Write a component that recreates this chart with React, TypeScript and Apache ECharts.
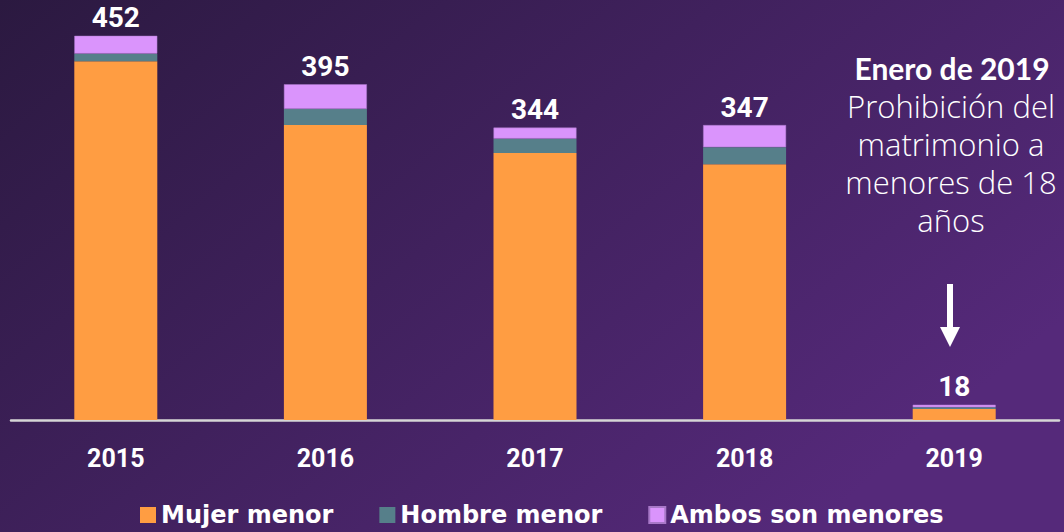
import React, { useEffect, useRef } from "react";
import * as echarts from "echarts";

const categories = ["2015", "2016", "2017", "2018", "2019"];
const mujerMenor = [422, 347, 314, 301, 13];
const hombreMenor = [9, 19, 17, 20, 2];
const ambosMenores = [21, 29, 13, 26, 3];
const totals = [452, 395, 344, 347, 18];
const annotationTitle = "Enero de 2019";
const annotationLines = ["Prohibición del", "matrimonio a", "menores de 18", "años"];

export default function App() {
  const ref = useRef<HTMLDivElement>(null);
  useEffect(() => {
    if (!ref.current) return;
    const chart = echarts.init(ref.current, null, { renderer: "svg" });
    const font = "Lato, 'DejaVu Sans', sans-serif";
    const lightFont = "'Open Sans', Lato, sans-serif";
    const legendFont = "'DejaVu Sans', sans-serif";
    const numFont = "Roboto, 'Liberation Sans', sans-serif";
    const lineTexts = annotationLines.map((t, i) => ({
      type: "text",
      x: 951,
      y: 106 + i * 38,
      style: {
        text: t,
        fill: "#ffffff",
        font: `300 31px ${lightFont}`,
        align: "center",
        verticalAlign: "middle",
      },
    }));
    chart.setOption({
      animation: false,
      backgroundColor: {
        type: "linear",
        x: 0,
        y: 0,
        x2: 1,
        y2: 0.6,
        colorStops: [
          { offset: 0, color: "#2b1940" },
          { offset: 1, color: "#55297a" },
        ],
      },
      grid: { left: 11, right: 5, top: 12, bottom: 112, containLabel: false },
      legend: {
        bottom: 0,
        left: 135,
        itemWidth: 16,
        itemHeight: 16,
        itemGap: 46,
        icon: "rect",
        textStyle: { color: "#ffffff", fontSize: 24, fontWeight: "bold", fontFamily: legendFont },
        data: ["Mujer menor", "Hombre menor", "Ambos son menores"],
      },
      xAxis: {
        type: "category",
        data: categories,
        axisLine: { show: true, lineStyle: { color: "#d6d6d6", width: 2.5 } },
        axisTick: { show: false },
        axisLabel: {
          color: "#ffffff",
          fontSize: 25,
          fontWeight: "bold",
          fontFamily: numFont,
          margin: 26,
        },
      },
      yAxis: {
        type: "value",
        min: 0,
        max: 480,
        show: false,
        splitLine: { show: false },
      },
      series: [
        {
          name: "Mujer menor",
          type: "bar",
          stack: "t",
          barWidth: 83,
          data: mujerMenor,
          itemStyle: { color: "#ff9d42" },
        },
        {
          name: "Hombre menor",
          type: "bar",
          stack: "t",
          barWidth: 83,
          data: hombreMenor,
          itemStyle: { color: "#567f8a" },
        },
        {
          name: "Ambos son menores",
          type: "bar",
          stack: "t",
          barWidth: 83,
          data: ambosMenores,
          itemStyle: { color: "#da94fc", borderColor: "#a878c8", borderWidth: 0.5 },
          label: {
            show: true,
            position: "top",
            distance: 4,
            formatter: (p: any) => String(totals[p.dataIndex]),
            color: "#ffffff",
            fontSize: 28,
            fontWeight: "bold",
            fontFamily: numFont,
          },
        },
      ],
      graphic: [
        {
          type: "text",
          x: 952,
          y: 68,
          style: {
            text: annotationTitle,
            fill: "#ffffff",
            font: `bold 30px ${font}`,
            align: "center",
            verticalAlign: "middle",
          },
        },
        ...lineTexts,
        {
          type: "rect",
          shape: { x: 947, y: 284, width: 6, height: 46 },
          style: { fill: "#ffffff" },
        },
        {
          type: "polygon",
          shape: { points: [[940, 327], [960, 327], [950, 347]] },
          style: { fill: "#ffffff" },
        },
      ],
    });
    return () => chart.dispose();
  }, []);
  return (
    <div
      ref={ref}
      style={{ position: "absolute", left: 0, top: 0, width: 1064, height: 532 }}
    />
  );
}
